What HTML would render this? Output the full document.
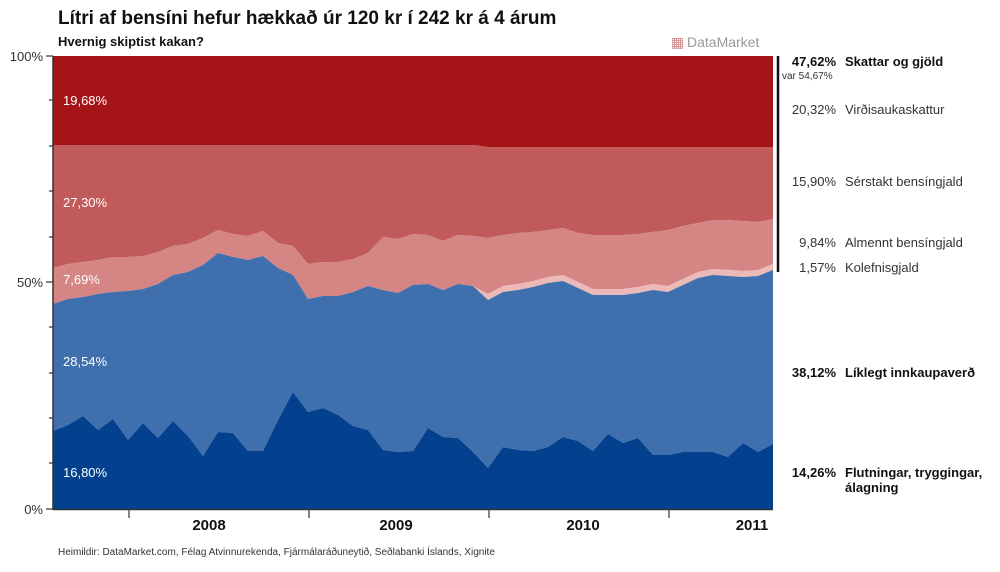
<!DOCTYPE html>
<html><head><meta charset="utf-8"><style>
body{margin:0;background:#fff;font-family:"Liberation Sans",sans-serif}
svg text{font-family:"Liberation Sans",sans-serif}
</style></head><body>
<svg id="s" width="1000" height="567" xmlns="http://www.w3.org/2000/svg">
<text x="58" y="24" font-size="19" font-weight="bold" fill="#111">Lítri af bensíni hefur hækkað úr 120 kr í 242 kr á 4 árum</text>
<text x="58" y="46" font-size="13" font-weight="bold" fill="#111">Hvernig skiptist kakan?</text>
<text x="671" y="47" font-size="14" fill="#c88">▦</text>
<text x="687" y="47" font-size="14" fill="#999">DataMarket</text>
<g id="areas"></g>
<g font-size="13" fill="#fff"><text x="63" y="105">19,68%</text><text x="63" y="207">27,30%</text><text x="63" y="284">7,69%</text><text x="63" y="366">28,54%</text><text x="63" y="477">16,80%</text></g>
<line x1="53" y1="56" x2="53" y2="510" stroke="#333" stroke-width="1.5"/>
<line x1="53" y1="509.5" x2="773" y2="509.5" stroke="#333" stroke-width="1.5"/>
<g stroke="#333" stroke-width="1.2">
<line x1="46" y1="56" x2="53" y2="56"/><line x1="49" y1="100" x2="53" y2="100"/><line x1="49" y1="146" x2="53" y2="146"/><line x1="49" y1="191" x2="53" y2="191"/><line x1="49" y1="237" x2="53" y2="237"/><line x1="46" y1="282" x2="53" y2="282"/><line x1="49" y1="327" x2="53" y2="327"/><line x1="49" y1="373" x2="53" y2="373"/><line x1="49" y1="418" x2="53" y2="418"/><line x1="49" y1="463" x2="53" y2="463"/><line x1="46" y1="509" x2="53" y2="509"/>
<line x1="129" y1="510" x2="129" y2="518"/><line x1="309" y1="510" x2="309" y2="518"/><line x1="489" y1="510" x2="489" y2="518"/><line x1="669" y1="510" x2="669" y2="518"/>
</g>
<g font-size="13" fill="#333" text-anchor="end"><text x="43" y="61">100%</text><text x="43" y="287">50%</text><text x="43" y="514">0%</text></g>
<g font-size="15" font-weight="bold" fill="#111" text-anchor="middle"><text x="209" y="530">2008</text><text x="396" y="530">2009</text><text x="583" y="530">2010</text><text x="752" y="530">2011</text></g>
<text x="58" y="555" font-size="10" fill="#333">Heimildir: DataMarket.com, Félag Atvinnurekenda, Fjármálaráðuneytið, Seðlabanki Íslands, Xignite</text>
<line x1="778" y1="56" x2="778" y2="272" stroke="#111" stroke-width="2.5"/>
<g font-size="13" fill="#333">
<text x="836" y="66" text-anchor="end" font-weight="bold" fill="#111">47,62%</text><text x="845" y="66" font-weight="bold" fill="#111">Skattar og gjöld</text>
<text x="782" y="79" font-size="10">var 54,67%</text>
<text x="836" y="114" text-anchor="end">20,32%</text><text x="845" y="114">Virðisaukaskattur</text>
<text x="836" y="186" text-anchor="end">15,90%</text><text x="845" y="186">Sérstakt bensíngjald</text>
<text x="836" y="247" text-anchor="end">9,84%</text><text x="845" y="247">Almennt bensíngjald</text>
<text x="836" y="272" text-anchor="end">1,57%</text><text x="845" y="272">Kolefnisgjald</text>
<text x="836" y="377" text-anchor="end" font-weight="bold" fill="#111">38,12%</text><text x="845" y="377" font-weight="bold" fill="#111">Líklegt innkaupaverð</text>
<text x="836" y="477" text-anchor="end" font-weight="bold" fill="#111">14,26%</text><text x="845" y="477" font-weight="bold" fill="#111">Flutningar, tryggingar,</text><text x="845" y="492" font-weight="bold" fill="#111">álagning</text>
</g>
</svg>
<script>
(function(){
var d=[431,425,416,430,419,440,423,438,421,436,456,432,433,451,451,420,392,412,408,415,426,430,450,452,451,428,437,438,452,468,447,450,451,447,437,441,451,434,443,438,455,455,452,452,452,457,443,452,444];
var m=[304,299,297,294,292,291,289,284,275,272,265,253,257,260,256,268,275,299,296,296,292,286,290,293,285,284,290,284,286,300,292,290,287,283,281,288,295,295,295,293,290,292,285,278,275,276,277,276,270];
var p=[268,264,262,260,257,257,256,252,246,244,238,230,234,236,231,243,246,264,262,262,259,253,237,239,234,235,241,235,236,238,235,233,232,230,228,233,235,235,235,234,232,230,226,223,220,220,221,222,219];
var n=d.length,xs=[],k=[],r=[];
for(var i=0;i<n;i++){xs.push(53+720*i/(n-1));var x=xs[i];var t=x<478?0:Math.min(6,(x-478)/2+2);k.push(m[i]-t);r.push(x<483?145:147);}
function band(tp,bt,c){var s="M";for(var i=0;i<n;i++)s+=xs[i].toFixed(1)+","+tp[i]+" ";for(var i=n-1;i>=0;i--)s+=xs[i].toFixed(1)+","+bt[i]+" ";return '<path d="'+s+'Z" fill="'+c+'"/>';}
var tt=[],bb=[];for(var i=0;i<n;i++){tt.push(56);bb.push(509.5);}
document.getElementById("areas").innerHTML=band(tt,r,"#a51416")+band(r,p,"#c15a5b")+band(p,k,"#d48584")+band(k,m,"#ebb9b7")+band(m,d,"#3f70ad")+band(d,bb,"#03418f");
})();
</script>
</body></html>
